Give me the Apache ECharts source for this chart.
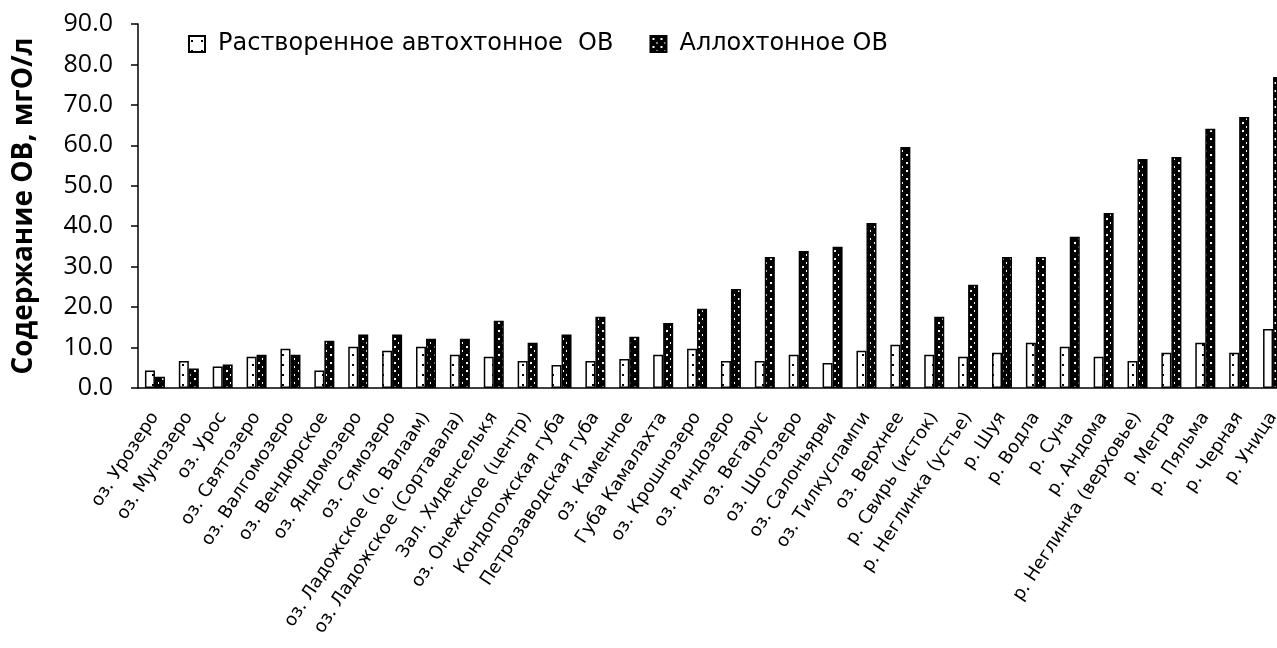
<!DOCTYPE html>
<html>
<head>
<meta charset="utf-8">
<script src="https://cdn.jsdelivr.net/npm/echarts@6/dist/echarts.min.js"></script>
<style>
  html, body { margin: 0; padding: 0; background: #fff; overflow: hidden; }
  #chart { width: 1300px; height: 648px; }
</style>
</head>
<body>
<div id="chart"></div>
<script>
// Water bodies and rivers, ordered by allochthonous OM content
const categories = [
  'оз. Урозеро', 'оз. Мунозеро', 'оз. Урос', 'оз. Святозеро', 'оз. Валгомозеро',
  'оз. Вендюрское', 'оз. Яндомозеро', 'оз. Сямозеро', 'оз. Ладожское (о. Валаам)',
  'оз. Ладожское (Сортавала)', 'Зал. Хиденселькя', 'оз. Онежское (центр)',
  'Кондопожская губа', 'Петрозаводская губа', 'оз. Каменное', 'Губа Камалахта',
  'оз. Крошнозеро', 'оз. Риндозеро', 'оз. Вегарус', 'оз. Шотозеро', 'оз. Салоньярви',
  'оз. Тилкуслампи', 'оз. Верхнее', 'р. Свирь (исток)', 'р. Неглинка (устье)',
  'р. Шуя', 'р. Водла', 'р. Суна', 'р. Андома', 'р. Неглинка (верховье)',
  'р. Мегра', 'р. Пяльма', 'р. Черная', 'р. Уница'
];

// Dissolved autochthonous OM, mgO/l
const autochthonous = [
  4.3, 6.7, 5.3, 7.7, 9.7, 4.3, 10.2, 9.2, 10.2, 8.2, 7.7, 6.7,
  5.7, 6.7, 7.2, 8.2, 9.7, 6.7, 6.7, 8.2, 6.2, 9.2, 10.7, 8.2,
  7.7, 8.7, 11.2, 10.2, 7.7, 6.7, 8.7, 11.2, 8.7, 14.6
];

// Allochthonous OM, mgO/l
const allochthonous = [
  2.8, 4.8, 5.8, 8.2, 8.2, 11.7, 13.2, 13.2, 12.2, 12.2, 16.6, 11.2,
  13.2, 17.6, 12.7, 16.1, 19.6, 24.5, 32.4, 33.9, 34.9, 40.8, 59.6, 17.6,
  25.5, 32.4, 32.4, 37.4, 43.3, 56.6, 57.1, 64.1, 67.0, 76.9
];

const seriesNames = ['Растворенное автохтонное  ОВ', 'Аллохтонное ОВ'];
const yTicks = { min: 0, max: 90, interval: 10 };

// Dot-pattern fills for the two series
function makePattern(bg, fg, dots, w, h) {
  const c = document.createElement('canvas');
  c.width = w; c.height = h;
  const ctx = c.getContext('2d');
  ctx.fillStyle = bg;
  ctx.fillRect(0, 0, w, h);
  ctx.fillStyle = fg;
  dots.forEach(d => ctx.fillRect(d[0], d[1], d[2], d[3]));
  return c;
}
const lightPattern = makePattern('#ffffff', '#000000', [[2, 4, 2, 2]], 10, 10);
const darkPattern = makePattern('#000000', '#ffffff', [[2, 2, 2, 2], [6, 6, 1, 2]], 8, 8);

const chart = echarts.init(document.getElementById('chart'));

chart.setOption({
  backgroundColor: '#ffffff',
  animation: false,
  textStyle: { fontFamily: 'DejaVu Sans', color: '#000' },
  legend: {
    left: 183,
    top: 27,
    itemWidth: 16,
    itemHeight: 16,
    itemGap: 36,
    icon: 'rect',
    textStyle: { fontFamily: 'DejaVu Sans', fontSize: 24, color: '#000', padding: [0, 0, 0, 8] },
    data: seriesNames
  },
  grid: {
    left: 138,
    top: 24,
    right: 10,
    bottom: 260,
    containLabel: false
  },
  xAxis: {
    type: 'category',
    data: categories,
    axisLine: { lineStyle: { color: '#000', width: 1.5 } },
    axisTick: { show: false },
    axisLabel: {
      interval: 0,
      rotate: 57,
      margin: 26,
      fontFamily: 'DejaVu Sans',
      fontSize: 18,
      color: '#000'
    }
  },
  yAxis: {
    type: 'value',
    min: yTicks.min,
    max: yTicks.max,
    interval: yTicks.interval,
    name: 'Содержание ОВ, мгО/л',
    nameLocation: 'middle',
    nameGap: 100,
    nameTextStyle: { fontFamily: 'Open Sans', fontSize: 28, fontWeight: 'bold', color: '#000' },
    axisLine: { show: true, lineStyle: { color: '#000', width: 1.5 } },
    axisTick: { show: true, length: 7, lineStyle: { color: '#000', width: 1.5 } },
    splitLine: { show: false },
    axisLabel: {
      margin: 25,
      fontFamily: 'Open Sans',
      fontSize: 25,
      color: '#000',
      formatter: v => v.toFixed(1)
    }
  },
  series: [
    {
      name: seriesNames[0],
      type: 'bar',
      data: autochthonous,
      barWidth: 10,
      barGap: '0%',
      itemStyle: {
        color: { image: lightPattern, repeat: 'repeat' },
        borderColor: '#000',
        borderWidth: 1.5
      }
    },
    {
      name: seriesNames[1],
      type: 'bar',
      data: allochthonous,
      barWidth: 10,
      itemStyle: {
        color: { image: darkPattern, repeat: 'repeat' },
        borderColor: '#000',
        borderWidth: 1.5
      }
    }
  ]
});
</script>
</body>
</html>
